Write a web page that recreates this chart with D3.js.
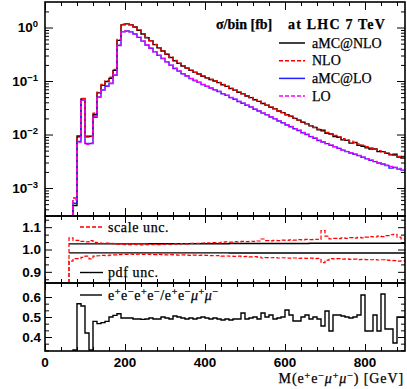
<!DOCTYPE html>
<html>
<head>
<meta charset="utf-8">
<script src="https://cdn.jsdelivr.net/npm/d3@7"></script>
<style>
body { margin: 0; background: #fff; }
svg { display: block; }
.tick line { stroke: #000; stroke-width: 1; }
.num { font-family: "Liberation Sans", Arial, sans-serif; font-weight: bold; font-size: 13.5px; }
.ser { font-family: "Liberation Serif", "Times New Roman", serif; font-size: 14px; stroke: #000; stroke-width: 0.25px; }
</style>
</head>
<body>
<div id="chart"></div>
<script>

// bins are 10 GeV wide
var binW = 10;
var binLo = d3.range(70, 900, binW);      // top and bottom panels
var binLoMid = d3.range(60, 900, binW);   // ratio panel

// sigma/bin [fb]
var amcnlo = [4.7e-4, 9.1e-3, 0.046, 9.3e-3, 9.3e-3, 0.0234, 0.060, 0.083, 0.098, 0.112,
  0.158, 0.575, 1.12, 1.17, 1.12, 1.02, 0.891, 0.759, 0.646, 0.562,
  0.479, 0.417, 0.363, 0.316, 0.275, 0.240, 0.214, 0.191, 0.174, 0.158,
  0.145, 0.135, 0.123, 0.115, 0.107, 0.100, 0.0933, 0.0851, 0.0794, 0.0724,
  0.0676, 0.0617, 0.0575, 0.0525, 0.0490, 0.0447, 0.0417, 0.0380, 0.0355, 0.0324,
  0.0302, 0.0275, 0.0257, 0.0234, 0.0219, 0.0200, 0.0186, 0.0170, 0.0158, 0.0145,
  0.0135, 0.0123, 0.0120, 0.0105, 0.0102, 0.00912, 0.00891, 0.00794, 0.00776, 0.00692,
  0.00708, 0.00631, 0.00603, 0.00562, 0.00537, 0.00537, 0.00479, 0.00479, 0.00447, 0.00417,
  0.00427, 0.00380, 0.00363];
var nlo = [6.5e-4, 9.5e-3, 0.047, 9.0e-3, 9.2e-3, 0.025, 0.062, 0.086, 0.100, 0.118,
  0.165, 0.60, 1.15, 1.18, 1.13, 1.03, 0.90, 0.77, 0.655, 0.568,
  0.485, 0.420, 0.366, 0.319, 0.278, 0.243, 0.216, 0.193, 0.175, 0.160,
  0.146, 0.135, 0.124, 0.115, 0.107, 0.101, 0.0940, 0.0860, 0.0800, 0.0730,
  0.0680, 0.0620, 0.0580, 0.0530, 0.0492, 0.0452, 0.0420, 0.0384, 0.0356, 0.0328,
  0.0303, 0.0279, 0.0258, 0.0237, 0.0220, 0.0203, 0.0188, 0.0172, 0.0160, 0.0147,
  0.0136, 0.0126, 0.0116, 0.0109, 0.0102, 0.0096, 0.0090, 0.0084, 0.0079, 0.0075,
  0.0071, 0.0067, 0.0063, 0.0059, 0.0056, 0.0053, 0.0050, 0.0047, 0.0045, 0.0043,
  0.0041, 0.0039, 0.0037];
var amclo = [5.2e-4, 7.4e-3, 0.044, 6.8e-3, 6.8e-3, 0.021, 0.050, 0.068, 0.080, 0.090,
  0.128, 0.46, 0.83, 0.86, 0.83, 0.755, 0.655, 0.558, 0.472, 0.410,
  0.350, 0.302, 0.263, 0.228, 0.198, 0.172, 0.153, 0.136, 0.124, 0.111,
  0.102, 0.0945, 0.0855, 0.0794, 0.0738, 0.0685, 0.0639, 0.0579, 0.0540, 0.0489,
  0.0456, 0.0413, 0.0385, 0.0352, 0.0326, 0.0297, 0.0275, 0.0251, 0.0233, 0.0212,
  0.0196, 0.0179, 0.0166, 0.0151, 0.0140, 0.0128, 0.0119, 0.0108, 0.0100, 0.00914,
  0.00851, 0.00775, 0.00725, 0.00675, 0.00631, 0.00589, 0.00552, 0.00510, 0.00480, 0.00451,
  0.00427, 0.00403, 0.00375, 0.00351, 0.00330, 0.00312, 0.00294, 0.00282, 0.00264, 0.00236,
  0.00242, 0.00226, 0.00216];
var lo = [6.0e-4, 7.2e-3, 0.045, 6.6e-3, 6.9e-3, 0.022, 0.051, 0.069, 0.081, 0.091,
  0.130, 0.47, 0.84, 0.865, 0.835, 0.76, 0.66, 0.562, 0.476, 0.413,
  0.352, 0.304, 0.265, 0.229, 0.199, 0.173, 0.154, 0.137, 0.124, 0.112,
  0.102, 0.0948, 0.0860, 0.0798, 0.0740, 0.0688, 0.0640, 0.0582, 0.0542, 0.0492,
  0.0458, 0.0415, 0.0387, 0.0353, 0.0327, 0.0298, 0.0276, 0.0252, 0.0234, 0.0213,
  0.0197, 0.0180, 0.0167, 0.0152, 0.0141, 0.0129, 0.0120, 0.0109, 0.0101, 0.00920,
  0.00856, 0.00780, 0.00730, 0.00680, 0.00636, 0.00594, 0.00556, 0.00515, 0.00484, 0.00455,
  0.00431, 0.00406, 0.00378, 0.00354, 0.00333, 0.00315, 0.00297, 0.00285, 0.00267, 0.00254,
  0.00243, 0.00232, 0.00222];

// uncertainty bands, ratio to central aMC@NLO
var scaleUp = [1.052, 1.041, 1.041, 1.036, 1.034, 1.040, 1.032, 1.030, 1.028, 1.029,
  1.027, 1.026, 1.024, 1.023, 1.022, 1.022, 1.023, 1.022, 1.021, 1.022,
  1.022, 1.023, 1.022, 1.023, 1.024, 1.023, 1.025, 1.024, 1.026, 1.025,
  1.027, 1.028, 1.027, 1.029, 1.030, 1.029, 1.031, 1.030, 1.033, 1.034,
  1.033, 1.035, 1.034, 1.036, 1.035, 1.037, 1.036, 1.038, 1.047, 1.040,
  1.039, 1.041, 1.040, 1.042, 1.041, 1.043, 1.042, 1.044, 1.043, 1.045,
  1.044, 1.046, 1.045, 1.085, 1.060, 1.048, 1.050, 1.049, 1.052, 1.050,
  1.053, 1.051, 1.054, 1.052, 1.055, 1.058, 1.056, 1.060, 1.058, 1.062,
  1.066, 1.068, 1.055, 1.048];
var scaleDn = [0.948, 0.959, 0.959, 0.965, 0.970, 0.958, 0.970, 0.972, 0.974, 0.973,
  0.975, 0.976, 0.977, 0.978, 0.978, 0.979, 0.978, 0.979, 0.978, 0.979,
  0.978, 0.977, 0.978, 0.977, 0.976, 0.977, 0.976, 0.975, 0.976, 0.975,
  0.974, 0.975, 0.974, 0.975, 0.974, 0.973, 0.972, 0.973, 0.970, 0.971,
  0.970, 0.969, 0.970, 0.968, 0.969, 0.967, 0.968, 0.966, 0.962, 0.964,
  0.963, 0.964, 0.962, 0.963, 0.962, 0.961, 0.962, 0.960, 0.961, 0.960,
  0.961, 0.959, 0.960, 0.941, 0.952, 0.959, 0.958, 0.959, 0.957, 0.958,
  0.956, 0.957, 0.955, 0.956, 0.955, 0.954, 0.955, 0.953, 0.954, 0.952,
  0.951, 0.950, 0.948, 0.949];
var pdfUp = [1.025, 1.025, 1.025, 1.025, 1.025, 1.025, 1.025, 1.025, 1.025, 1.025,
  1.025, 1.025, 1.025, 1.025, 1.025, 1.025, 1.025, 1.025, 1.025, 1.025,
  1.026, 1.026, 1.026, 1.026, 1.026, 1.026, 1.026, 1.026, 1.026, 1.026,
  1.026, 1.026, 1.026, 1.026, 1.026, 1.026, 1.026, 1.026, 1.026, 1.026,
  1.027, 1.027, 1.027, 1.027, 1.027, 1.027, 1.027, 1.027, 1.027, 1.027,
  1.027, 1.027, 1.027, 1.027, 1.027, 1.027, 1.027, 1.027, 1.027, 1.027,
  1.028, 1.028, 1.028, 1.028, 1.028, 1.028, 1.028, 1.028, 1.028, 1.028,
  1.028, 1.028, 1.028, 1.028, 1.028, 1.028, 1.028, 1.028, 1.028, 1.028,
  1.028, 1.028, 1.028, 1.028];
var pdfDn = [0.985, 0.985, 0.985, 0.985, 0.985, 0.985, 0.985, 0.985, 0.985, 0.985,
  0.985, 0.985, 0.985, 0.985, 0.985, 0.985, 0.985, 0.985, 0.985, 0.985,
  0.985, 0.985, 0.985, 0.985, 0.985, 0.985, 0.985, 0.985, 0.985, 0.985,
  0.985, 0.985, 0.985, 0.985, 0.985, 0.985, 0.985, 0.985, 0.985, 0.985,
  0.984, 0.984, 0.984, 0.984, 0.984, 0.984, 0.984, 0.984, 0.984, 0.984,
  0.984, 0.984, 0.984, 0.984, 0.984, 0.984, 0.984, 0.984, 0.984, 0.984,
  0.984, 0.984, 0.984, 0.984, 0.984, 0.984, 0.984, 0.984, 0.984, 0.984,
  0.984, 0.984, 0.984, 0.984, 0.984, 0.984, 0.984, 0.984, 0.984, 0.984,
  0.984, 0.984, 0.984, 0.984];

// e+e-e+e- / e+e-mu+mu-
var flavRatio = [0.335, 0.566, 0.555, 0.42, 0.335, 0.478, 0.467, 0.472, 0.478, 0.50,
  0.508, 0.516, 0.495, 0.495, 0.495, 0.49, 0.49, 0.488, 0.49, 0.495,
  0.49, 0.49, 0.50, 0.495, 0.49, 0.505, 0.50, 0.495, 0.49, 0.495,
  0.49, 0.495, 0.50, 0.495, 0.49, 0.495, 0.49, 0.485, 0.49, 0.485,
  0.49, 0.49, 0.52, 0.49, 0.495, 0.50, 0.49, 0.52, 0.50, 0.51,
  0.49, 0.495, 0.50, 0.535, 0.51, 0.48, 0.48, 0.50, 0.51, 0.49,
  0.50, 0.49, 0.455, 0.53, 0.43, 0.51, 0.51, 0.505, 0.50, 0.495,
  0.50, 0.51, 0.61, 0.43, 0.43, 0.51, 0.43, 0.615, 0.44, 0.44,
  0.37, 0.50, 0.50];

var xTickLabels = ["0", "200", "400", "600", "800"];
var xMajor = [0, 200, 400, 600, 800];
var legendNames = ["aMC@NLO", "NLO", "aMC@LO", "LO"];

var width = 407, height = 389;

var svg = d3.select("#chart").append("svg")
  .attr("width", width)
  .attr("height", height);

var x = d3.scaleLinear().domain([0, 900]).range([45, 405]);

var yTop = d3.scaleLog().domain([3e-4, 3]).range([216, 2]).clamp(true);
var yMid = d3.scaleLinear().domain([0.85, 1.15]).range([283, 216]).clamp(true);
var yBot = d3.scaleLinear().domain([0.33, 0.67]).range([351, 283]).clamp(true);

var xMinor = d3.range(0, 901, 40).filter(function(v) { return v % 200 != 0; });

function steps(lows, vals, y, fromBase) {
  var pts = vals.map(function(v, i) { return [x(lows[i]), y(v)]; });
  pts.push([x(lows[lows.length - 1] + binW), y(vals[vals.length - 1])]);
  if (fromBase) pts.unshift([x(lows[0]), y.range()[0]]);
  return d3.line().curve(d3.curveStepAfter)(pts);
}

function clipFor(id, y) {
  var r = y.range();
  svg.append("clipPath").attr("id", id).append("rect")
    .attr("x", x.range()[0]).attr("y", r[1])
    .attr("width", x.range()[1] - x.range()[0]).attr("height", r[0] - r[1]);
  return svg.append("g").attr("clip-path", "url(#" + id + ")");
}

function addAxes(y, yMajor, yMinor, majLen) {
  var r = y.range();
  var g = svg.append("g");
  function put(axis, tx, ty) {
    var a = g.append("g").attr("transform", "translate(" + tx + "," + ty + ")").call(axis);
    a.select(".domain").remove();
    a.selectAll("text").remove();
  }
  put(d3.axisBottom(x).tickValues(xMajor).tickSize(-majLen), 0, r[0]);
  put(d3.axisBottom(x).tickValues(xMinor).tickSize(-4), 0, r[0]);
  put(d3.axisTop(x).tickValues(xMajor).tickSize(-majLen), 0, r[1]);
  put(d3.axisTop(x).tickValues(xMinor).tickSize(-4), 0, r[1]);
  put(d3.axisLeft(y).tickValues(yMajor).tickSize(-majLen), 45, 0);
  put(d3.axisLeft(y).tickValues(yMinor).tickSize(-4), 45, 0);
  put(d3.axisRight(y).tickValues(yMajor).tickSize(-majLen), 405, 0);
  put(d3.axisRight(y).tickValues(yMinor).tickSize(-4), 405, 0);
  svg.append("rect")
    .attr("x", 45).attr("y", r[1])
    .attr("width", 360).attr("height", r[0] - r[1])
    .attr("fill", "none").attr("stroke", "#000").attr("stroke-width", 1.6);
}

// rich text with superscripts: parts = [[text, isSup, italic], ...]
function rich(t, parts, supSize, lift) {
  var up = false;
  parts.forEach(function(p) {
    var s = t.append("tspan").text(p[0]);
    if (p[1] && !up) { s.attr("dy", -lift).attr("font-size", supSize); up = true; }
    else if (p[1]) { s.attr("font-size", supSize); }
    else if (up) { s.attr("dy", lift); up = false; }
    if (p[2]) s.attr("font-style", "italic");
  });
  return t;
}

var red = "#ff0000", blue = "#2020ff", mag = "#ff00ff";

// ---- top panel
var logMajor = [1e-3, 1e-2, 1e-1, 1];
var logMinor = [];
[-4, -3, -2, -1, 0].forEach(function(d) {
  for (var m = 2; m <= 9; m++) {
    var v = m * Math.pow(10, d);
    if (v > 3e-4 && v < 3) logMinor.push(v);
  }
});

var gTop = clipFor("cTop", yTop);
var series = [
  {v: amcnlo, c: "#000", dash: null},
  {v: nlo, c: red, dash: "4,2"},
  {v: amclo, c: blue, dash: null},
  {v: lo, c: mag, dash: "4,2"}
];
[0, 2, 1, 3].forEach(function(i) {
  var s = series[i];
  gTop.append("path")
    .attr("d", steps(binLo, s.v, yTop, true))
    .attr("fill", "none").attr("stroke", s.c).attr("stroke-width", 1.4)
    .attr("stroke-dasharray", s.dash);
});
addAxes(yTop, logMajor, logMinor, 8);

var exps = ["0", "\u22121", "\u22122", "\u22123"];
logMajor.slice().reverse().forEach(function(v, i) {
  var t = svg.append("text").attr("class", "num")
    .attr("x", 38).attr("y", yTop(v) + 4.5).attr("text-anchor", "end");
  rich(t, [["10", false], [exps[i], true]], "9.5px", 5);
});

// title and legend
svg.append("text").attr("class", "ser").attr("font-weight", "bold")
  .attr("font-size", "15px").attr("x", 216).attr("y", 28.5)
  .text("\u03c3/bin [fb]");
svg.append("text").attr("class", "ser").attr("font-weight", "bold")
  .attr("font-size", "15px").attr("x", 288).attr("y", 28.5)
  .attr("letter-spacing", "1.2px")
  .text("at LHC 7 TeV");

var leg = svg.append("g").selectAll("g").data(series).enter().append("g")
  .attr("transform", function(d, i) { return "translate(279," + (43 + i * 17.7) + ")"; });
leg.append("line").attr("x1", 0).attr("x2", 26).attr("y1", 0).attr("y2", 0)
  .attr("stroke", function(d) { return d.c; }).attr("stroke-width", 1.5)
  .attr("stroke-dasharray", function(d) { return d.dash; });
leg.append("text").attr("class", "ser").attr("font-size", "13px").attr("x", 33).attr("y", 4.7)
  .text(function(d, i) { return legendNames[i]; });

// ---- middle panel
var gMid = clipFor("cMid", yMid);
gMid.append("path").attr("d", steps(binLoMid, pdfUp, yMid, false))
  .attr("fill", "none").attr("stroke", "#000").attr("stroke-width", 1.4);
gMid.append("path").attr("d", steps(binLoMid, pdfDn, yMid, false))
  .attr("fill", "none").attr("stroke", "#000").attr("stroke-width", 1.4);
gMid.append("path").attr("d", steps(binLoMid, scaleUp, yMid, true))
  .attr("fill", "none").attr("stroke", red).attr("stroke-width", 1.2).attr("stroke-dasharray", "4,2");
gMid.append("path").attr("d", steps(binLoMid, scaleDn, yMid, true))
  .attr("fill", "none").attr("stroke", red).attr("stroke-width", 1.2).attr("stroke-dasharray", "4,2");

var midMinor = d3.range(-4, 5).map(function(k) { return 1 + k / 30; })
  .filter(function(v, i) { return (i - 4) % 3 != 0; });
addAxes(yMid, [0.9, 1.0, 1.1], midMinor, 7);
["0.9", "1.0", "1.1"].forEach(function(s, i) {
  svg.append("text").attr("class", "num").attr("x", 41).attr("y", yMid([0.9, 1.0, 1.1][i]) + 4.8)
    .attr("text-anchor", "end").text(s);
});

svg.append("line").attr("x1", 80).attr("x2", 103).attr("y1", 227).attr("y2", 227)
  .attr("stroke", red).attr("stroke-width", 1.5).attr("stroke-dasharray", "4,2");
svg.append("text").attr("class", "ser").attr("letter-spacing", "0.6px")
  .attr("x", 108).attr("y", 231.5).text("scale unc.");
svg.append("line").attr("x1", 80).attr("x2", 103).attr("y1", 272.5).attr("y2", 272.5)
  .attr("stroke", "#000").attr("stroke-width", 1.4);
svg.append("text").attr("class", "ser").attr("letter-spacing", "0.6px")
  .attr("x", 108).attr("y", 276.5).text("pdf unc.");

// ---- bottom panel
var gBot = clipFor("cBot", yBot);
gBot.append("path").attr("d", steps(binLo, flavRatio, yBot, true))
  .attr("fill", "none").attr("stroke", "#000").attr("stroke-width", 1.4);

var botMinor = d3.range(-2, 6).map(function(k) { return 0.4 + k / 30; })
  .filter(function(v, i) { return (i - 2) % 3 != 0 && v > 0.33 && v < 0.67; });
addAxes(yBot, [0.4, 0.5, 0.6], botMinor, 7);
["0.4", "0.5", "0.6"].forEach(function(s, i) {
  svg.append("text").attr("class", "num").attr("x", 41).attr("y", yBot([0.4, 0.5, 0.6][i]) + 4.8)
    .attr("text-anchor", "end").text(s);
});

svg.append("line").attr("x1", 80).attr("x2", 102).attr("y1", 295).attr("y2", 295)
  .attr("stroke", "#000").attr("stroke-width", 1.4);
rich(svg.append("text").attr("class", "ser").attr("letter-spacing", "0.6px")
  .attr("x", 108).attr("y", 299.5),
  [["e", false], ["+", true], ["e", false], ["\u2212", true], ["e", false], ["+", true],
   ["e", false], ["\u2212", true], ["/e", false], ["+", true], ["e", false], ["\u2212", true],
   ["\u03bc", false, true], ["+", true], ["\u03bc", false, true], ["\u2212", true]], "10px", 5);

// x tick labels
xMajor.forEach(function(v, i) {
  svg.append("text").attr("class", "num").attr("x", x(v)).attr("y", 367)
    .attr("text-anchor", "middle").text(xTickLabels[i]);
});

// x axis title
rich(svg.append("text").attr("class", "ser").attr("letter-spacing", "0.9px")
  .attr("x", 404).attr("y", 383).attr("text-anchor", "end"),
  [["M(e", false], ["+", true], ["e", false], ["\u2212", true], ["\u03bc", false, true],
   ["+", true], ["\u03bc", false, true], ["\u2212", true], [")  [GeV]", false]], "10px", 4.5);

</script>
</body>
</html>
